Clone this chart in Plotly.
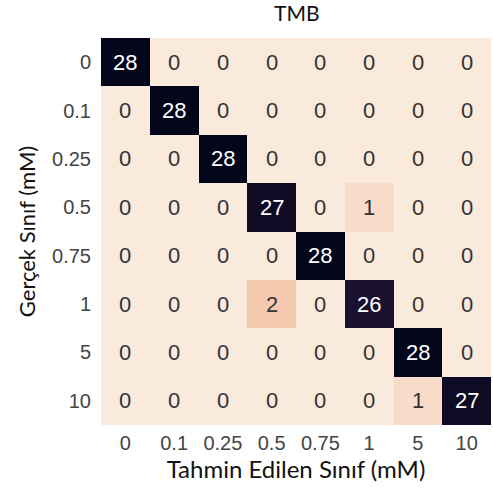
import plotly.graph_objects as go

classes = ["0", "0.1", "0.25", "0.5", "0.75", "1", "5", "10"]
matrix = [
    [28, 0, 0, 0, 0, 0, 0, 0],
    [0, 28, 0, 0, 0, 0, 0, 0],
    [0, 0, 28, 0, 0, 0, 0, 0],
    [0, 0, 0, 27, 0, 1, 0, 0],
    [0, 0, 0, 0, 28, 0, 0, 0],
    [0, 0, 0, 2, 0, 26, 0, 0],
    [0, 0, 0, 0, 0, 0, 28, 0],
    [0, 0, 0, 0, 0, 0, 1, 27],
]
title = "TMB"
xlabel = "Tahmin Edilen Sınıf (mM)"
ylabel = "Gerçek Sınıf (mM)"

colorscale = [
    [0.0, "#faeadc"], [0.036, "#f8dcc9"], [0.071, "#f5c9b0"],
    [0.15, "#f6a07c"], [0.3, "#f06043"], [0.5, "#b91657"],
    [0.7, "#6a1f56"], [0.9, "#221331"], [0.93, "#1a1030"], [1.0, "#03051a"],
]

idx = list(range(len(classes)))

fig = go.Figure(go.Heatmap(
    z=matrix, x=idx, y=idx, colorscale=colorscale,
    zmin=0, zmax=28, showscale=False, hoverinfo="skip",
))

annotations = []
for i, row in enumerate(matrix):
    for j, v in enumerate(row):
        annotations.append(dict(
            x=j, y=i, xref="x", yref="y", text=str(v), showarrow=False,
            font=dict(family="Liberation Sans", size=22,
                      color="#ffffff" if v > 14 else "#333333"),
        ))

fig.update_layout(
    width=493, height=495,
    margin=dict(l=101, r=2, t=38, b=70),
    paper_bgcolor="white", plot_bgcolor="white",
    title=dict(text=title, x=0.602, xanchor="center", y=0.972, yanchor="middle",
               font=dict(family="Lato", size=21, color="#111111")),
    annotations=annotations,
    xaxis=dict(range=[-0.5, 7.5], tickvals=idx, ticktext=classes,
               showgrid=False, zeroline=False, ticks="",
               ticklabelstandoff=4,
               tickfont=dict(family="Liberation Sans", size=20, color="#444444"),
               title=dict(text=xlabel, standoff=8,
                          font=dict(family="Lato", size=24, color="#111111"))),
    yaxis=dict(range=[7.5, -0.5], tickvals=idx, ticktext=classes,
               showgrid=False, zeroline=False, ticks="",
               ticklabelstandoff=9,
               tickfont=dict(family="Liberation Sans", size=20, color="#444444"),
               title=dict(text=ylabel, standoff=10,
                          font=dict(family="Lato", size=22, color="#111111"))),
)

fig.write_html("out.html")
